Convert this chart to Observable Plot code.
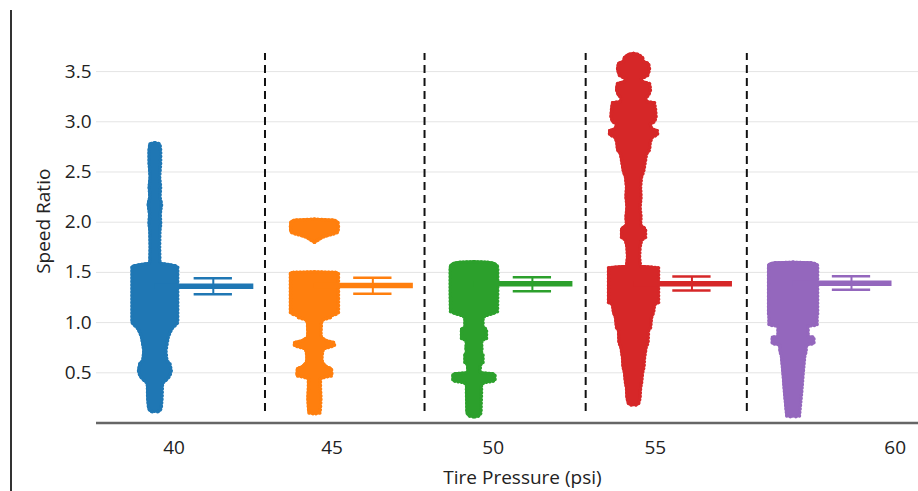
<!DOCTYPE html>
<html>
<head>
<meta charset="utf-8">
<script src="https://cdn.jsdelivr.net/npm/d3@7"></script>
<script src="https://cdn.jsdelivr.net/npm/@observablehq/plot@0.6"></script>
<style>
  html, body { margin: 0; padding: 0; background: #fff; }
  #wrap { position: relative; width: 918px; height: 491px; overflow: hidden; }
  #frame { position: absolute; left: 10px; top: 10px; width: 1.5px; height: 481px; background: #333; }
  #chart { position: absolute; left: 0; top: 0; }
</style>
</head>
<body>
<div id="wrap"><div id="frame"></div><div id="chart"></div></div>
<script>
// ---- data ----
const pressures = [40, 45, 50, 55, 60];
const colors = ["#1f77b4", "#ff7f0e", "#2ca02c", "#d62728", "#9467bd"];
const means = [1.362, 1.370, 1.386, 1.386, 1.393];
const errLo = [1.283, 1.287, 1.313, 1.320, 1.327];
const errHi = [1.442, 1.446, 1.452, 1.459, 1.462];

const yTicks = [0.5, 1.0, 1.5, 2.0, 2.5, 3.0, 3.5];
const xTickPos = [40.6, 45.55, 50.6, 55.68, 63.2];
const xTickLabels = ["40", "45", "50", "55", "60"];
const separators = [43.45, 48.45, 53.5, 58.55];
const xTitle = "Tire Pressure (psi)";
const yTitle = "Speed Ratio";

// swarm profiles: [speed ratio, spread (point density)]
const profile40 = [[2.79,0],[2.78,5],[2.71,5.8],[2.58,5.7],[2.45,4.7],[2.35,5.7],[2.25,5],[2.18,6.7],[2.08,5.3],[1.98,5.8],[1.92,5],[1.75,4.7],[1.59,5],[1.575,15],[1.565,21],[1.55,22.8],[1.3,22.8],[1.0,22.8],[0.975,21],[0.96,18.3],[0.90,15],[0.855,13.3],[0.72,11],[0.62,12],[0.59,15],[0.52,16.3],[0.47,15],[0.44,12.5],[0.40,8],[0.39,7.5],[0.257,7.2],[0.15,6.3],[0.12,5],[0.105,0]];
const profile45 = [[2.03,0],[2.02,20],[2.0,23.5],[1.95,24],[1.90,23.5],[1.885,20],[1.87,14],[1.85,8],[1.83,5],[1.80,0],[1.79,null],[1.505,0],[1.50,22],[1.49,24],[1.30,24],[1.10,24],[1.085,22],[1.07,17],[1.05,16],[1.03,9],[1.0,7],[0.9,6.5],[0.85,7],[0.82,12],[0.80,20],[0.77,20],[0.755,15],[0.74,9],[0.70,8],[0.65,7.5],[0.6,8],[0.56,12],[0.54,17],[0.47,17.5],[0.455,10],[0.44,6],[0.35,6],[0.25,6.5],[0.15,6],[0.10,5.5],[0.09,0]];
const profile50 = [[1.605,0],[1.60,14],[1.59,20],[1.57,23],[1.55,23.7],[1.3,23.7],[1.11,23.5],[1.09,19],[1.07,12],[1.05,9],[0.95,9],[0.935,12.5],[0.84,12.5],[0.825,8],[0.79,7.5],[0.75,8],[0.70,7.5],[0.68,9],[0.595,9],[0.58,6.5],[0.50,6],[0.49,19],[0.48,21],[0.42,21],[0.405,12],[0.39,7.5],[0.3,7.5],[0.2,7.2],[0.1,7],[0.07,5],[0.06,0]];
const profile55 = [[3.68,0],[3.67,5],[3.64,9],[3.60,10],[3.58,15],[3.52,16],[3.46,14],[3.43,8],[3.40,9],[3.38,16],[3.32,17],[3.26,15],[3.24,12],[3.20,13],[3.19,21],[3.12,22],[3.05,22.5],[3.0,21],[2.98,17],[2.93,18],[2.91,24],[2.87,24],[2.85,19],[2.80,16.7],[2.72,16],[2.68,13],[2.60,11.7],[2.50,10],[2.45,8],[2.35,7],[2.25,7.5],[2.15,6.5],[2.05,7.5],[1.97,7],[1.95,10],[1.93,12],[1.85,12],[1.82,8],[1.75,6.5],[1.65,6],[1.56,7],[1.55,20],[1.545,25],[1.35,25],[1.20,25],[1.18,21],[1.10,20],[1.05,18],[0.95,17],[0.92,15],[0.80,14.5],[0.75,12.5],[0.65,11],[0.56,10.5],[0.50,9],[0.40,8],[0.35,7],[0.25,6.5],[0.19,5],[0.17,0]];
const profile60 = [[1.60,0],[1.595,18],[1.585,23],[1.57,24.5],[1.2,24.5],[1.08,24.5],[1.07,24],[0.975,24],[0.965,15],[0.86,15],[0.855,20.8],[0.79,20.8],[0.78,13.3],[0.71,13],[0.67,11.7],[0.49,10],[0.32,8.7],[0.16,7.2],[0.07,6.3],[0.058,0]];

// ---- build tables ----
const profiles = [profile40, profile45, profile50, profile55, profile60];
const K = 1 / 31.9; // spread unit -> psi
const swarm = profiles.flatMap((prof, i) => prof.map(([v, w]) => ({p: pressures[i], v, w})));
const err = pressures.map((p, i) => ({p, mean: means[i], lo: errLo[i], hi: errHi[i]}));
const tickLabel = new Map(xTickPos.map((t, i) => [t, xTickLabels[i]]));
const lo = d => d.w == null ? NaN : d.p - d.w * K;
const hi = d => d.w == null ? NaN : d.p + d.w * K;

const chart = Plot.plot({
  width: 918,
  height: 491,
  marginLeft: 96,
  marginRight: 0,
  marginTop: 51,
  marginBottom: 68.5,
  style: {fontFamily: "'Open Sans', sans-serif", fontSize: "19px", color: "#222", background: "transparent"},
  x: {domain: [38.17, 63.93], axis: null},
  y: {domain: [0, 3.7], axis: null},
  color: {type: "ordinal", domain: pressures, range: colors},
  marks: [
    Plot.ruleY(yTicks, {stroke: "#e4e4e4", strokeWidth: 1}),
    Plot.axisY(yTicks, {tickSize: 0, tickPadding: 5, tickFormat: d3.format(".1f"), fontSize: 19, fill: "#222", label: null}),
    Plot.axisX(xTickPos, {tickSize: 0, tickPadding: 17, tickFormat: d => tickLabel.get(d), fontSize: 19, fill: "#222", label: null}),
    Plot.ruleX(separators, {y1: 0.115, y2: 3.68, stroke: "#111", strokeWidth: 2, strokeDasharray: "8,5"}),
    Plot.areaX(swarm, {
      y: "v", x1: lo, x2: hi,
      z: "p", fill: "p", stroke: "p", strokeWidth: 2, strokeLinejoin: "round", curve: "linear"
    }),
    // bumpy edge from the individual markers
    Plot.lineY(swarm, {y: "v", x: lo, z: "p", stroke: "p", strokeWidth: 3.5, strokeDasharray: "0.5,3", strokeLinecap: "round", curve: "linear"}),
    Plot.lineY(swarm, {y: "v", x: hi, z: "p", stroke: "p", strokeWidth: 3.5, strokeDasharray: "0.5,3", strokeLinecap: "round", curve: "linear"}),
    Plot.ruleY(err, {y: "mean", x1: "p", x2: d => d.p + 3.1, stroke: "p", strokeWidth: 5.5}),
    Plot.ruleX(err, {x: d => d.p + 1.83, y1: "lo", y2: "hi", stroke: "p", strokeWidth: 2}),
    Plot.ruleY(err, {y: "lo", x1: d => d.p + 1.23, x2: d => d.p + 2.43, stroke: "p", strokeWidth: 2.5}),
    Plot.ruleY(err, {y: "hi", x1: d => d.p + 1.23, x2: d => d.p + 2.43, stroke: "p", strokeWidth: 2.5}),
    Plot.ruleY([0], {stroke: "#666", strokeWidth: 2.5}),
    Plot.text([xTitle], {text: d => d, frameAnchor: "bottom", textAnchor: "middle", dx: 15, dy: 61, fontSize: 19, fill: "#222"}),
    Plot.text([yTitle], {text: d => d, frameAnchor: "left", textAnchor: "middle", dx: -53, dy: -16, rotate: -90, fontSize: 19, fill: "#222"})
  ]
});
document.getElementById("chart").appendChild(chart);
</script>
</body>
</html>
